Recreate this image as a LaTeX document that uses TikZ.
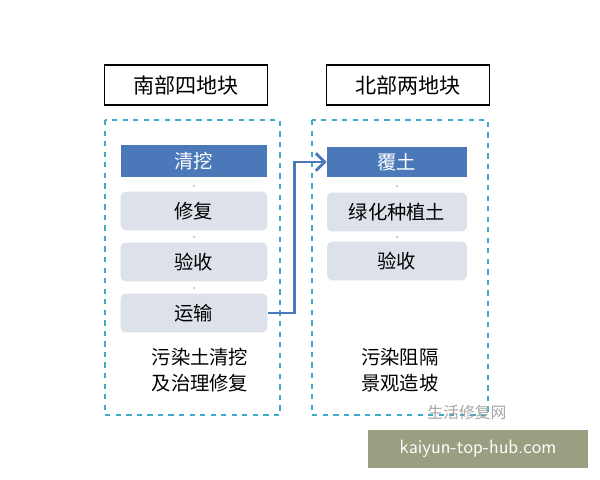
\documentclass[tikz,border=0pt]{standalone}
\usepackage{fontspec}
\newfontfamily\cjk{Noto Sans CJK SC}
\usetikzlibrary{positioning,arrows.meta}
\definecolor{stepblue}{HTML}{4A78B8}
\definecolor{steplight}{HTML}{DDE1EA}
\definecolor{zonecyan}{HTML}{3FA9C9}
\definecolor{bannergreen}{HTML}{9B9E80}
\tikzset{
  header/.style={draw, line width=0.8pt, minimum width=3.26cm, minimum height=0.8cm, font=\cjk\fontsize{12}{14}\selectfont},
  zone/.style={draw=zonecyan, dashed, line width=0.8pt},
  stepdark/.style={fill=stepblue, text=white, minimum width=2.94cm, minimum height=0.66cm, font=\cjk\fontsize{11}{13}\selectfont},
  stepgray/.style={fill=steplight, rounded corners=3pt, minimum width=2.94cm, minimum height=0.78cm, font=\cjk\fontsize{11}{13}\selectfont},
  joint/.style={circle, fill=gray!40, inner sep=0.6pt},
  note/.style={align=center, font=\cjk\fontsize{11}{15}\selectfont},
}
\begin{document}
\begin{tikzpicture}[x=0.02cm, y=-0.02cm]
  \useasboundingbox (0,0) rectangle (600,480);

  % headers
  \node[header] (hs) at (186,85) {南部四地块};
  \node[header] (hn) at (408,85) {北部两地块};

  % zones
  \draw[zone] (105,120) rectangle (280,415);
  \draw[zone] (312,120) rectangle (488,415);

  % south steps
  \node[stepdark] (s1) at (194,161) {清挖};
  \node[stepgray] (s2) at (194,211) {修复};
  \node[stepgray] (s3) at (194,262) {验收};
  \node[stepgray] (s4) at (194,313) {运输};
  \node[joint] at (194,186) {};
  \node[joint] at (194,237) {};
  \node[joint] at (194,288) {};

  % north steps
  \node[stepdark, minimum width=2.8cm, minimum height=0.58cm] (n1) at (397,162) {覆土};
  \node[stepgray, minimum width=2.8cm] (n2) at (397,212) {绿化种植土};
  \node[stepgray, minimum width=2.8cm] (n3) at (397,261) {验收};
  \node[joint] at (397,186) {};
  \node[joint] at (397,237) {};

  % transfer
  \draw[stepblue, line width=1.6pt, -{Straight Barb[length=5pt]}]
    (s4.east) -- ++(27,0) |- (n1.west);

  % notes
  \node[note] (ts) at (200,370) {污染土清挖\\及治理修复};
  \node[note] (tn) at (400,370) {污染阻隔\\景观造坡};

  % watermark
  \node[text=gray!70, font=\cjk\fontsize{9}{11}\selectfont] (wm) at (467,412) {生活修复网};
  \node[fill=bannergreen, text=white, minimum width=4.4cm, minimum height=0.76cm, font=\sffamily\fontsize{11}{13}\selectfont] (bn) at (478,449) {kaiyun-top-hub.com};
\end{tikzpicture}
\end{document}
